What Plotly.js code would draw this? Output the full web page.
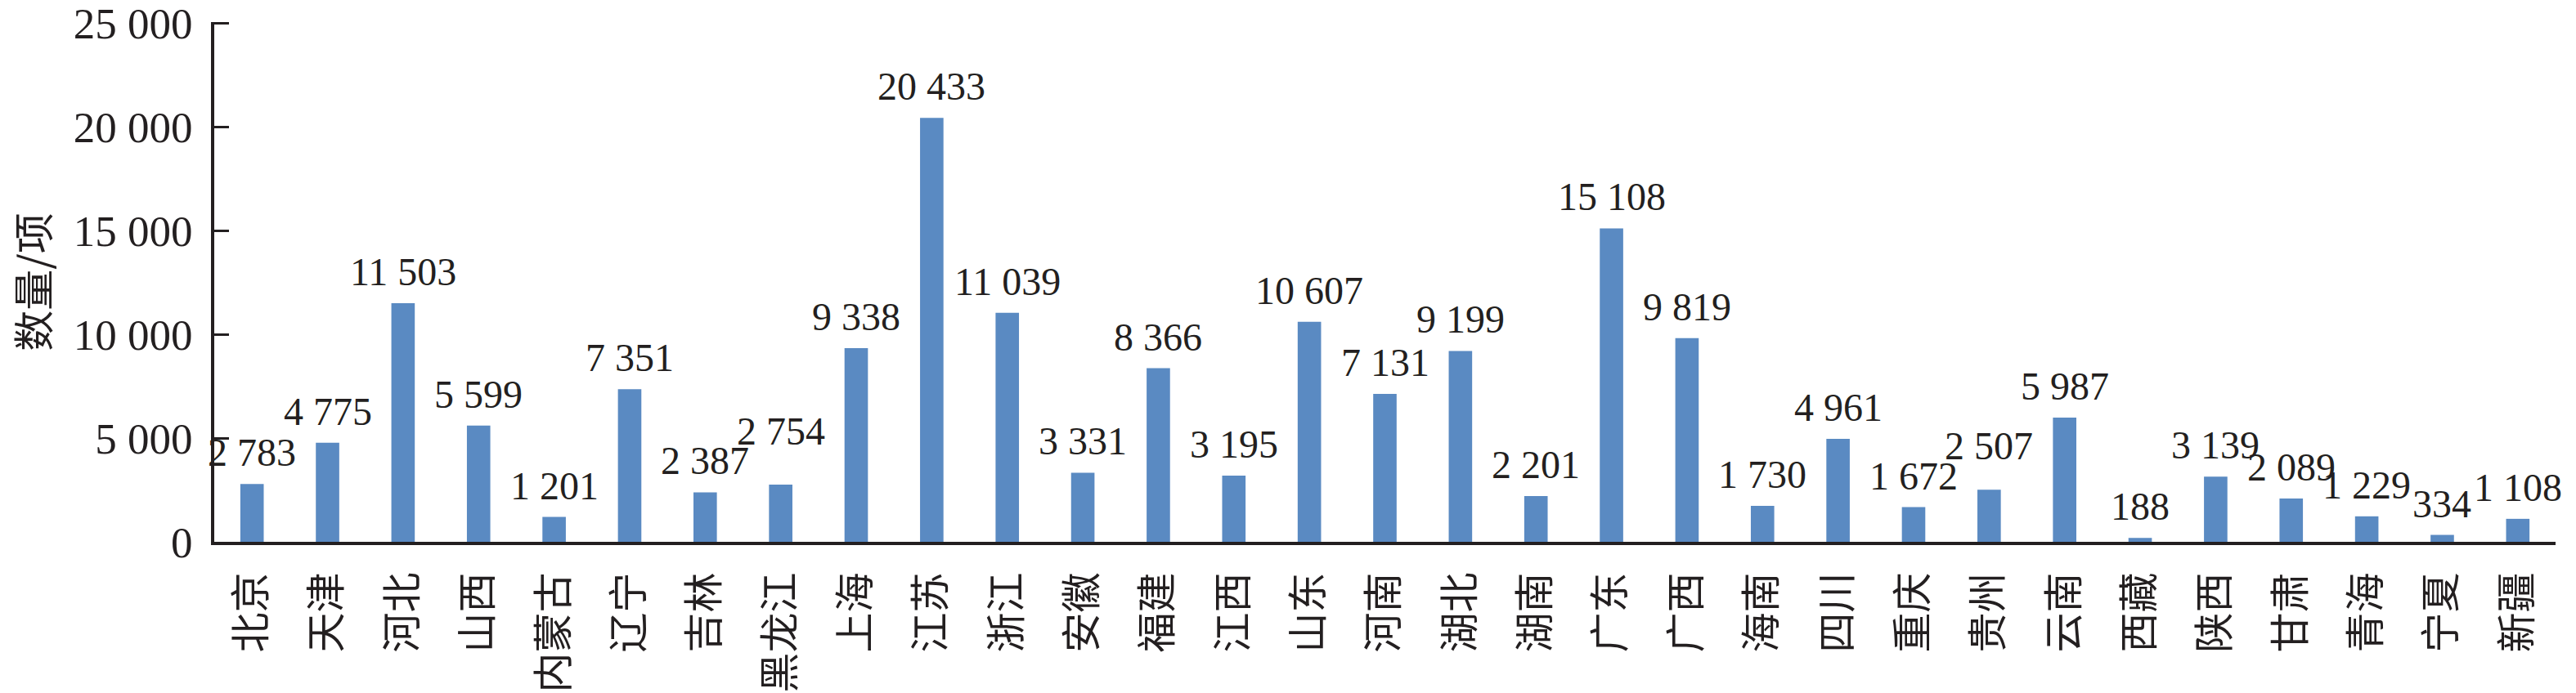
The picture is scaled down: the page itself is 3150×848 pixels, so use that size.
<!DOCTYPE html>
<html>
<head>
<meta charset="utf-8">
<script src="https://cdn.plot.ly/plotly-3.0.1.min.js"></script>
<style>
html,body{margin:0;padding:0;background:#fff;}
#chart{width:3150px;height:848px;}
</style>
</head>
<body>
<div id="chart"></div>
<script>
const provinces = ["北京","天津","河北","山西","内蒙古","辽宁","吉林","黑龙江","上海","江苏","浙江","安徽","福建","江西","山东","河南","湖北","湖南","广东","广西","海南","四川","重庆","贵州","云南","西藏","陕西","甘肃","青海","宁夏","新疆"];
const counts = [2783,4775,11503,5599,1201,7351,2387,2754,9338,20433,11039,3331,8366,3195,10607,7131,9199,2201,15108,9819,1730,4961,1672,2507,5987,188,3139,2089,1229,334,1108];
const yTickVals = [0,5000,10000,15000,20000,25000];
const yTitle = "数量/项";

const numFont = "Liberation Serif, Times New Roman, serif";
const cjkFont = "Noto Sans CJK SC, sans-serif";
const ink = "#231f20";
const labelSize = 48;

function fmt(v) {
  return String(v).replace(/\B(?=(\d{3})+(?!\d))/g, " ");
}

const bars = {
  type: "bar",
  x: provinces,
  y: counts,
  marker: {color: "#5a8ac2", line: {width: 0}},
  hoverinfo: "x+y"
};

const layout = {
  width: 3150,
  height: 848,
  margin: {l: 262, r: 25, t: 27, b: 185},
  paper_bgcolor: "#ffffff",
  plot_bgcolor: "#ffffff",
  separators: ". ",
  showlegend: false,
  bargap: 0.69,
  xaxis: {
    type: "category",
    range: [-0.5, provinces.length - 0.5],
    autorange: false,
    showline: true,
    linecolor: ink,
    linewidth: 4,
    ticks: "",
    tickangle: -90,
    ticklabelstandoff: 14,
    tickfont: {family: cjkFont, size: 49, color: ink},
    showgrid: false,
    zeroline: false
  },
  yaxis: {
    range: [0, 25050],
    autorange: false,
    tickvals: yTickVals,
    tickformat: ",",
    ticklabeloverflow: "allow",
    showline: true,
    linecolor: ink,
    linewidth: 4,
    ticks: "inside",
    ticklen: 18,
    tickwidth: 3,
    tickcolor: ink,
    ticklabelstandoff: 12,
    tickfont: {family: numFont, size: 53, color: ink},
    showgrid: false,
    zeroline: false,
    title: {text: yTitle, font: {family: cjkFont, size: 50, color: ink}, standoff: 14}
  }
};

const gd = document.getElementById("chart");
Plotly.newPlot(gd, [bars], layout, {staticPlot: true}).then(function () {
  const ya = gd._fullLayout.yaxis;
  const xa = gd._fullLayout.xaxis;
  const spacing = Math.abs(xa.l2p(1) - xa.l2p(0));
  const ctx = document.createElement("canvas").getContext("2d");
  ctx.font = labelSize + "px 'Liberation Serif'";
  const texts = counts.map(fmt);
  const widths = texts.map(t => ctx.measureText(t).width);
  const baseGap = 21;
  const glyphH = labelSize * 0.70;
  const pad = 3;
  const base = counts.map(v => ya.l2p(v) - baseGap);
  for (let i = 1; i < counts.length; i++) {
    const hOverlap = (widths[i] + widths[i - 1]) / 2 > spacing - 2;
    const topPrev = base[i - 1] - glyphH;
    if (hOverlap && counts[i] >= counts[i - 1] && base[i] > topPrev - pad) {
      base[i] = topPrev - pad;
    }
  }
  const annotations = counts.map((v, i) => ({
    x: provinces[i],
    y: v,
    xref: "x",
    yref: "y",
    text: texts[i],
    showarrow: false,
    yanchor: "bottom",
    xanchor: "center",
    borderpad: 0,
    yshift: (ya.l2p(v) - base[i]) - Math.round(labelSize * 0.216),
    font: {family: numFont, size: labelSize, color: ink}
  }));
  return Plotly.relayout(gd, {annotations: annotations});
});
</script>
</body>
</html>
